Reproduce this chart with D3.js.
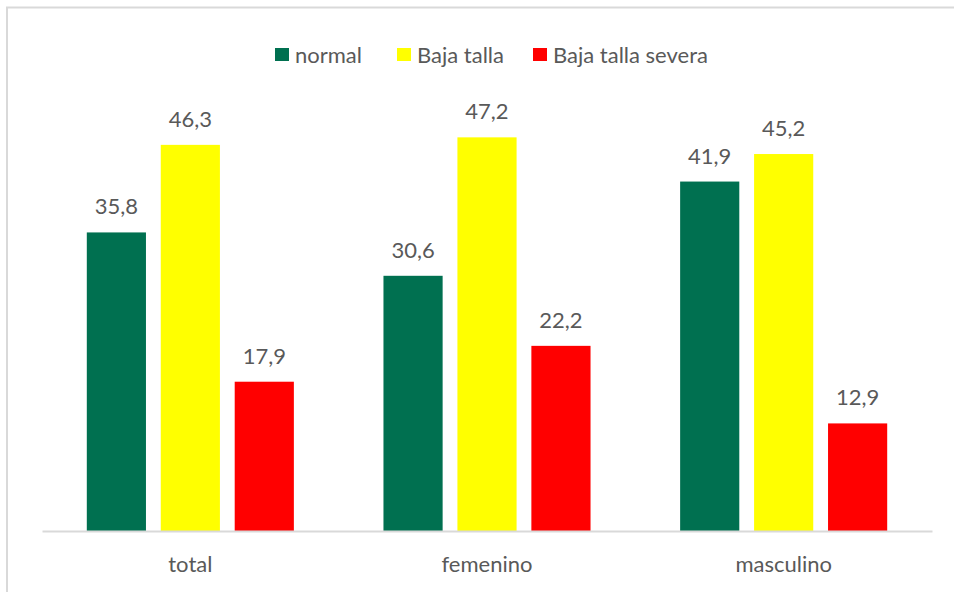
<!DOCTYPE html>
<html>
<head>
<meta charset="utf-8">
<script src="https://cdn.jsdelivr.net/npm/d3@7"></script>
<style>
  body { margin: 0; background: #fff; }
  svg text { font-family: Lato, "Open Sans", sans-serif; fill: #595959; }
</style>
</head>
<body>
<div id="chart"></div>
<script>
const categories = ["total", "femenino", "masculino"];
const seriesNames = ["normal", "Baja talla", "Baja talla severa"];
const normal = [35.8, 30.6, 41.9];
const bajaTalla = [46.3, 47.2, 45.2];
const bajaTallaSevera = [17.9, 22.2, 12.9];
const colors = ["#007050", "#FFFF00", "#FF0000"];

let width = 954,
    height = 592;

let svg = d3.select("#chart")
            .append("svg")
            .attr("width", width)
            .attr("height", height);

// chart frame (runs off right/bottom edge like the source)
svg.append("rect")
   .attr("x", 7).attr("y", 7.5)
   .attr("width", 960).attr("height", 600)
   .attr("fill", "none")
   .attr("stroke", "#d9d9d9")
   .attr("stroke-width", 2);

let plotLeft = 42, plotRight = 932, plotBottom = 531;

let x0 = d3.scaleBand()
           .domain(categories)
           .range([plotLeft, plotRight])
           .paddingInner(0)
           .paddingOuter(0);

// inner band: 3 bars of ~59px with ~15px gaps, centred in a ~297px slot
let x1 = d3.scaleBand()
           .domain(seriesNames)
           .range([44.8, x0.bandwidth() - 44.8])
           .paddingInner(0.2);

let y = d3.scaleLinear()
          .domain([0, 50])
          .range([plotBottom, plotBottom - 417]);

let data = categories.map((c, i) => ({
  cat: c,
  values: [normal[i], bajaTalla[i], bajaTallaSevera[i]].map((v, j) => ({ name: seriesNames[j], v: v, color: colors[j] }))
}));

let groups = svg.append("g")
                .selectAll("g")
                .data(data)
                .enter().append("g")
                .attr("transform", d => "translate(" + x0(d.cat) + ",0)");

groups.selectAll("rect")
      .data(d => d.values)
      .enter().append("rect")
      .attr("x", d => x1(d.name))
      .attr("width", x1.bandwidth())
      .attr("y", d => y(d.v))
      .attr("height", d => y(0) - y(d.v))
      .attr("fill", d => d.color);

groups.selectAll("text")
      .data(d => d.values)
      .enter().append("text")
      .attr("x", d => x1(d.name) + x1.bandwidth() / 2)
      .attr("y", d => y(d.v) - 18)
      .attr("text-anchor", "middle")
      .style("font-size", "22px")
      .text(d => d3.format(".1f")(d.v).replace(".", ","));

// category axis
let xAxis = svg.append("g")
               .attr("transform", "translate(0," + plotBottom + ")")
               .call(d3.axisBottom(x0).tickSize(0).tickPadding(0));
xAxis.select(".domain").attr("stroke", "#d9d9d9").attr("stroke-width", 2);
xAxis.selectAll("text")
     .attr("y", 40.5)
     .attr("dy", null)
     .style("font-size", "22px")
     .style("font-family", "Lato, 'Open Sans', sans-serif")
     .attr("fill", "#595959");

// legend
const legendX = [275, 397, 533];
let legend = svg.append("g")
                .selectAll("g")
                .data(seriesNames)
                .enter().append("g")
                .attr("transform", (d, i) => "translate(" + legendX[i] + ",48)");

legend.append("rect")
      .attr("width", 14).attr("height", 13)
      .attr("fill", (d, i) => colors[i]);

legend.append("text")
      .attr("x", 20)
      .attr("y", 14.5)
      .style("font-size", "22px")
      .text(d => d);
</script>
</body>
</html>
